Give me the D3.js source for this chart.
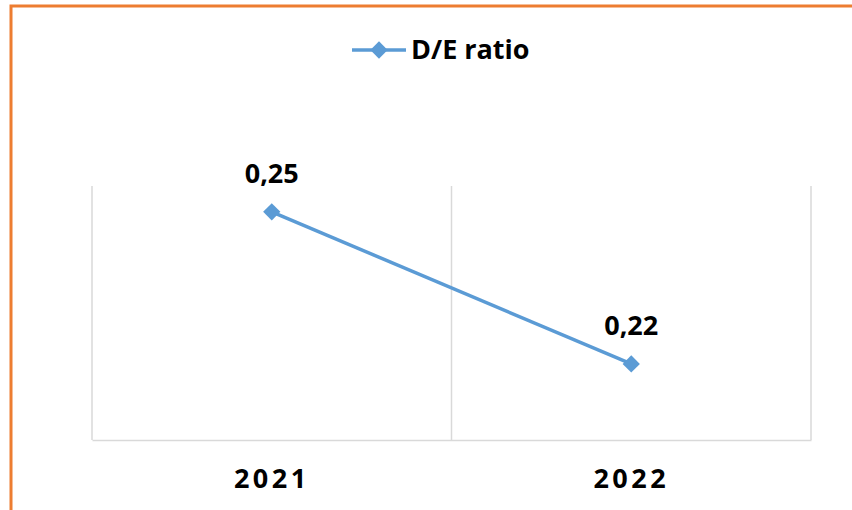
<!DOCTYPE html>
<html>
<head>
<meta charset="utf-8">
<script src="https://cdn.jsdelivr.net/npm/d3@7"></script>
<style>
  body { margin: 0; background: #fff; }
  text { font-family: "Open Sans", sans-serif; font-weight: bold; fill: #000; }
</style>
</head>
<body>
<div id="chart"></div>
<script>
const years = ['2021', '2022'];
const deRatio = [0.25, 0.22];
const valueLabels = ['0,25', '0,22'];
const seriesName = 'D/E ratio';

const w = 852, h = 510;
const plotLeft = 92, plotRight = 811, plotTop = 186, plotBottom = 440;

const svg = d3.select('#chart').append('svg').attr('width', w).attr('height', h);

// orange frame (only top and left visible in the crop)
svg.append('path')
  .attr('d', `M11,${h + 5} L11,6 L${w + 5},6`)
  .attr('fill', 'none').attr('stroke', '#ED7D31').attr('stroke-width', 3);

const x = d3.scaleBand().domain(years).range([plotLeft, plotRight]);
const y = d3.scaleLinear().domain([0.205, 0.2551]).range([plotBottom, plotTop]);

// vertical gridlines at category borders
const borders = [plotLeft, plotLeft + x.bandwidth(), plotRight];
svg.selectAll('line.grid').data(borders).enter().append('line')
  .attr('class', 'grid')
  .attr('x1', d => d).attr('x2', d => d)
  .attr('y1', plotTop).attr('y2', plotBottom)
  .attr('stroke', '#D9D9D9').attr('stroke-width', 1.5);

// x axis
const xAxis = svg.append('g')
  .attr('transform', `translate(0,${plotBottom})`)
  .call(d3.axisBottom(x).tickSize(0).tickPadding(29));
xAxis.select('.domain').attr('stroke', '#D9D9D9').attr('stroke-width', 1.5);
xAxis.selectAll('text')
  .style('font-family', '"Open Sans", sans-serif').style('font-weight', 'bold')
  .style('font-size', '27px').style('letter-spacing', '3.5px').attr('fill', '#000');

const pts = years.map((yr, i) => [x(yr) + x.bandwidth() / 2, y(deRatio[i])]);

svg.append('path')
  .attr('d', d3.line()(pts))
  .attr('fill', 'none').attr('stroke', '#5B9BD5').attr('stroke-width', 3.5);

const diamond = d3.symbol().type(d3.symbolDiamond2).size(190);
svg.selectAll('path.pt').data(pts).enter().append('path')
  .attr('class', 'pt')
  .attr('d', diamond)
  .attr('transform', d => `translate(${d[0]},${d[1]})`)
  .attr('fill', '#5B9BD5');

svg.selectAll('text.lbl').data(pts).enter().append('text')
  .attr('class', 'lbl')
  .attr('x', d => d[0]).attr('y', d => d[1] - 29)
  .attr('text-anchor', 'middle')
  .style('font-size', '27px')
  .text((d, i) => valueLabels[i]);

// legend
const lg = svg.append('g').attr('transform', 'translate(352,50)');
lg.append('line').attr('x1', 0).attr('x2', 54).attr('y1', 0).attr('y2', 0)
  .attr('stroke', '#5B9BD5').attr('stroke-width', 3.5);
lg.append('path').attr('d', diamond).attr('transform', 'translate(27,0)').attr('fill', '#5B9BD5');
lg.append('text').attr('x', 59).attr('y', 9).style('font-size', '27px').text(seriesName);
</script>
</body>
</html>
